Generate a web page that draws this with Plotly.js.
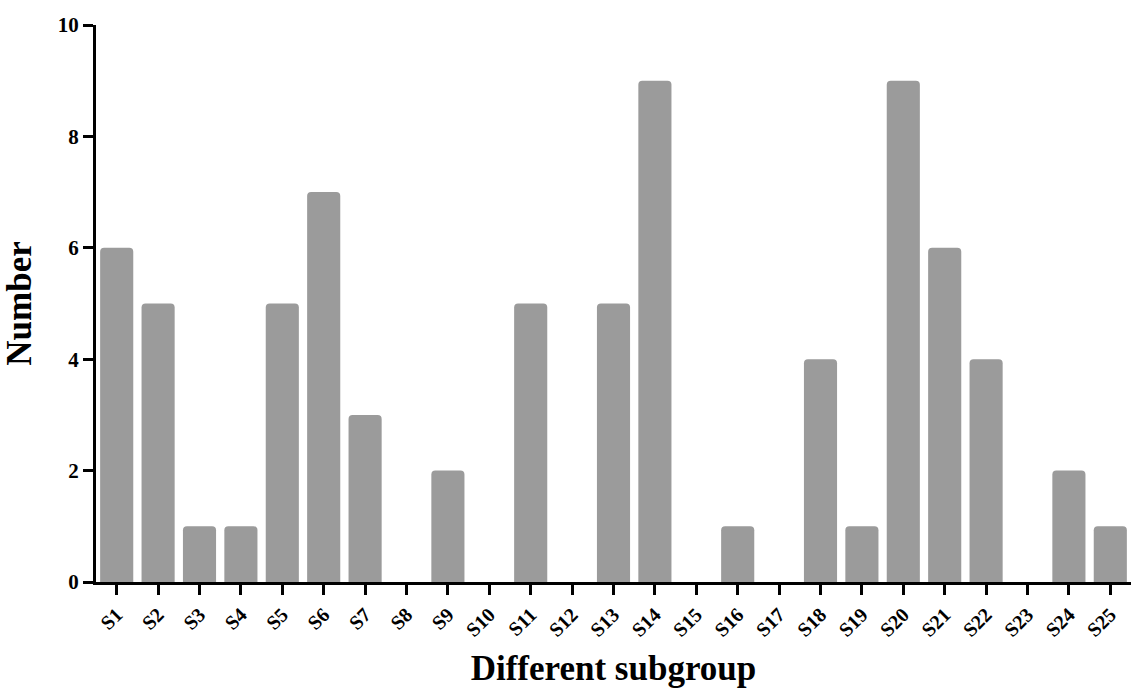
<!DOCTYPE html>
<html>
<head>
<meta charset="utf-8">
<script src="https://cdn.plot.ly/plotly-3.0.1.min.js"></script>
<style>html,body{margin:0;padding:0;background:#fff;}#chart{width:1131px;height:688px;}</style>
</head>
<body>
<div id="chart"></div>
<script>
var categories = ["S1","S2","S3","S4","S5","S6","S7","S8","S9","S10","S11","S12","S13","S14","S15","S16","S17","S18","S19","S20","S21","S22","S23","S24","S25"];
var counts = [6,5,1,1,5,7,3,0,2,0,5,0,5,9,0,1,0,4,1,9,6,4,0,2,1];
var yTicks = [0,2,4,6,8,10];

var fontFam = "Liberation Serif, Times New Roman, serif";
var trace = {
  type: "bar",
  x: categories,
  y: counts,
  width: 0.8,
  marker: {color: "#9b9b9b", line: {width: 0}, cornerradius: 4},
  hoverinfo: "x+y"
};
var layout = {
  width: 1131, height: 688,
  margin: {l: 96, r: 0, t: 25, b: 106},
  paper_bgcolor: "#fff", plot_bgcolor: "#fff",
  showlegend: false,
  font: {family: fontFam, color: "#000"},
  xaxis: {
    type: "category",
    range: [-0.5, 24.5],
    showline: true, linecolor: "#000", linewidth: 3,
    ticks: "outside", ticklen: 10, tickwidth: 3, tickcolor: "#000",
    tickangle: -45,
    tickfont: {family: fontFam, size: 20, color: "#000", weight: "bold"},
    showgrid: false, zeroline: false,
    title: {text: "<b>Different subgroup</b>", font: {family: fontFam, size: 35, color: "#000"}, standoff: 16}
  },
  yaxis: {
    range: [0, 10],
    tickvals: yTicks,
    ticktext: yTicks.map(String),
    showline: true, linecolor: "#000", linewidth: 3,
    ticks: "outside", ticklen: 10, tickwidth: 3, tickcolor: "#000",
    tickfont: {family: fontFam, size: 21, color: "#000", weight: "bold"},
    showgrid: false, zeroline: false,
    title: {text: "<b>Number</b>", font: {family: fontFam, size: 35, color: "#000"}, standoff: 20}
  }
};
Plotly.newPlot("chart", [trace], layout, {displayModeBar: false});
</script>
</body>
</html>
